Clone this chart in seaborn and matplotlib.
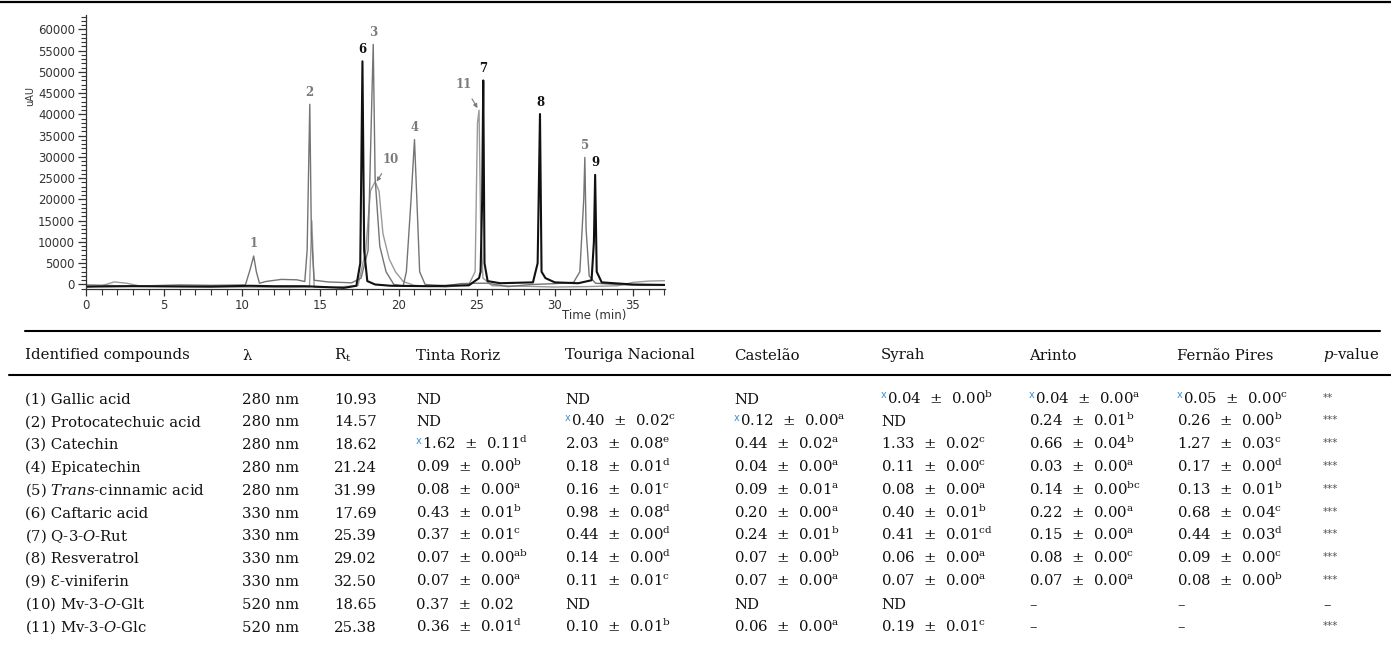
import numpy as np
import pandas as pd
import matplotlib
matplotlib.use("Agg")
import matplotlib.pyplot as plt
from matplotlib.ticker import MultipleLocator
from matplotlib.lines import Line2D
import seaborn as sns

# ---------------- data: chromatogram traces (time [min], signal [uAU]) -------------
t_330 = [0, 3, 8, 10.5, 12, 14, 16.5, 17.3, 17.55, 17.69, 17.8, 18.0, 18.5, 19.5, 22, 24.5,
         25.15, 25.25, 25.35, 25.42, 25.5, 25.7, 26.5, 28.6, 28.9, 29.05, 29.15, 29.4, 30,
         31.5, 32.35, 32.5, 32.58, 32.68, 33, 35, 37.05]
s_330 = [-500, -400, -500, -300, -400, -400, -800, -300, 5000, 52500, 8000, 800, 0, -300, -400,
         -200, 1500, 3000, 20000, 48000, 5000, 800, 300, 500, 5000, 40100, 3000, 1500, 500,
         300, 1000, 10000, 25800, 3000, 500, 0, -100]

t_280 = [0, 1.2, 2, 4, 6, 8, 10.2, 10.5, 10.73, 10.9, 11.1, 11.5, 12.5, 13.5, 14.0, 14.15,
         14.32, 14.42, 14.6, 15.5, 17, 17.6, 18.05, 18.3, 18.38, 18.5, 18.8, 19.2, 19.7, 20.3,
         20.5, 20.8, 21.02, 21.15, 21.35, 21.7, 23, 24, 25, 25.7, 27, 28.5, 30, 31.2, 31.6,
         31.85, 31.92, 32.0, 32.2, 32.6, 34, 35.5, 37.05]
s_280 = [-100, -200, -300, -300, -100, -200, -100, 3500, 6700, 3000, 300, 700, 1200, 1100, 700,
         8000, 42400, 12000, 1000, 600, 400, 1500, 8000, 45000, 56500, 25000, 9000, 3000, 0,
         -300, 3000, 20000, 34100, 22000, 3000, 0, -300, 200, 300, 300, -500, 0, 200, 500, 3000,
         20000, 29900, 13000, 2000, 300, 0, -200, -200]

t_520 = [0, 1, 1.8, 2.6, 3.5, 6, 10, 13, 14.3, 14.45, 14.6, 16, 17.4, 17.9, 18.2, 18.5, 18.75,
         19.0, 19.4, 19.8, 20.3, 21, 23, 24.5, 24.9, 25.05, 25.15, 25.25, 25.4, 26, 28, 30, 32,
         34, 35, 36, 37.05]
s_520 = [-600, -300, 600, 300, -400, -500, -600, -700, -600, 15000, -600, -600, -300, 8000,
         22000, 24200, 22000, 12000, 6000, 3000, 700, -200, -600, 0, 3000, 38000, 41000, 15000,
         1500, -300, -400, -600, -500, -300, 500, 800, 900]

# peak labels: id, apex time, apex height
peak_ids = ["1", "2", "6", "3", "4", "7", "8", "5", "9"]
peak_t = [10.73, 14.32, 17.69, 18.38, 21.02, 25.42, 29.05, 31.92, 32.58]
peak_h = [6700, 42400, 52500, 56500, 34100, 48000, 40100, 29900, 25800]
peak_bold = [False, False, True, False, False, True, True, False, True]
arrow_ids = ["10", "11"]
arrow_t = [18.6, 25.1]
arrow_h = [24200, 41000]

# ---------------- data: table ----------------
headers = ["Identified compounds", "λ", "R$_\\mathrm{t}$", "Tinta Roriz", "Touriga Nacional",
           "Castelão", "Syrah", "Arinto", "Fernão Pires", "$\\it{p}$-value"]
compounds = ["(1) Gallic acid", "(2) Protocatechuic acid", "(3) Catechin", "(4) Epicatechin",
             "(5) $\\it{Trans}$-cinnamic acid", "(6) Caftaric acid", "(7) Q-3-$\\it{O}$-Rut",
             "(8) Resveratrol", "(9) Ɛ-viniferin", "(10) Mv-3-$\\it{O}$-Glt",
             "(11) Mv-3-$\\it{O}$-Glc"]
wavelength = ["280 nm", "280 nm", "280 nm", "280 nm", "280 nm", "330 nm", "330 nm", "330 nm",
              "330 nm", "520 nm", "520 nm"]
rt = ["10.93", "14.57", "18.62", "21.24", "31.99", "17.69", "25.39", "29.02", "32.50",
      "18.65", "25.38"]
tinta_roriz = ["ND", "ND", "x1.62 ± 0.11^d", "0.09 ± 0.00^b", "0.08 ± 0.00^a", "0.43 ± 0.01^b",
               "0.37 ± 0.01^c", "0.07 ± 0.00^ab", "0.07 ± 0.00^a", "0.37 ± 0.02", "0.36 ± 0.01^d"]
touriga_nacional = ["ND", "x0.40 ± 0.02^c", "2.03 ± 0.08^e", "0.18 ± 0.01^d", "0.16 ± 0.01^c",
                    "0.98 ± 0.08^d", "0.44 ± 0.00^d", "0.14 ± 0.00^d", "0.11 ± 0.01^c", "ND",
                    "0.10 ± 0.01^b"]
castelao = ["ND", "x0.12 ± 0.00^a", "0.44 ± 0.02^a", "0.04 ± 0.00^a", "0.09 ± 0.01^a",
            "0.20 ± 0.00^a", "0.24 ± 0.01^b", "0.07 ± 0.00^b", "0.07 ± 0.00^a", "ND",
            "0.06 ± 0.00^a"]
syrah = ["x0.04 ± 0.00^b", "ND", "1.33 ± 0.02^c", "0.11 ± 0.00^c", "0.08 ± 0.00^a",
         "0.40 ± 0.01^b", "0.41 ± 0.01^cd", "0.06 ± 0.00^a", "0.07 ± 0.00^a", "ND",
         "0.19 ± 0.01^c"]
arinto = ["x0.04 ± 0.00^a", "0.24 ± 0.01^b", "0.66 ± 0.04^b", "0.03 ± 0.00^a", "0.14 ± 0.00^bc",
          "0.22 ± 0.00^a", "0.15 ± 0.00^a", "0.08 ± 0.00^c", "0.07 ± 0.00^a", "–", "–"]
fernao_pires = ["x0.05 ± 0.00^c", "0.26 ± 0.00^b", "1.27 ± 0.03^c", "0.17 ± 0.00^d",
                "0.13 ± 0.01^b", "0.68 ± 0.04^c", "0.44 ± 0.03^d", "0.09 ± 0.00^c",
                "0.08 ± 0.00^b", "–", "–"]
p_value = ["**", "***", "***", "***", "***", "***", "***", "***", "***", "–", "***"]

# ---------------- styling ----------------
sns.set_style("ticks")
plt.rcParams["font.family"] = ["DejaVu Sans"]
plt.rcParams["mathtext.fontset"] = "custom"
plt.rcParams["mathtext.rm"] = "DejaVu Serif"
plt.rcParams["mathtext.it"] = "DejaVu Serif:italic"
plt.rcParams["mathtext.bf"] = "DejaVu Serif:bold"

W, H = 1391, 645
fig = plt.figure(figsize=(W / 100, H / 100), dpi=100)
fig.patch.set_facecolor("white")


def fx(x):
    return x / W


def fy(y):
    return 1 - y / H


# top rule of the page
fig.add_artist(Line2D([0, 1], [fy(2), fy(2)], color="black", lw=1.6))

ax = fig.add_axes([fx(86), fy(289), fx(665) - fx(86), fy(15) - fy(289)])
ax.set_facecolor("white")

df520 = pd.DataFrame({"time": t_520, "signal": s_520})
df280 = pd.DataFrame({"time": t_280, "signal": s_280})
df330 = pd.DataFrame({"time": t_330, "signal": s_330})
sns.lineplot(data=df520, x="time", y="signal", color="#9a9a9a", lw=1.0, estimator=None,
             sort=False, ax=ax)
sns.lineplot(data=df280, x="time", y="signal", color="#747474", lw=1.0, estimator=None,
             sort=False, ax=ax)
sns.lineplot(data=df330, x="time", y="signal", color="#111111", lw=1.5, estimator=None,
             sort=False, ax=ax)

ax.set_xlim(0, 37.05)
ax.set_ylim(-1060, 63400)
ax.set_xticks(np.arange(0, 36, 5))
ax.set_yticks(np.arange(0, 60001, 5000))
ax.xaxis.set_minor_locator(MultipleLocator(1))
ax.yaxis.set_minor_locator(MultipleLocator(1000))
ax.tick_params(axis="both", which="major", labelsize=8.5, labelcolor="#333333", color="#333333",
               width=0.9, direction="out")
ax.tick_params(axis="y", which="major", length=6, pad=2)
ax.tick_params(axis="y", which="minor", length=3.5, width=0.8, color="#333333")
ax.tick_params(axis="x", which="major", length=5, pad=2)
ax.tick_params(axis="x", which="minor", length=4, width=0.8, color="#333333")
for s in ["top", "right"]:
    ax.spines[s].set_visible(False)
for s in ["left", "bottom"]:
    ax.spines[s].set_color("#333333")
    ax.spines[s].set_linewidth(0.9)
ax.set_xlabel("")
ax.set_ylabel("")
fig.text(fx(30), fy(96), "uAU", rotation=90, fontsize=7, color="#333333", ha="center",
         va="center")
fig.text(fx(594), fy(316), "Time (min)", fontsize=8.5, color="#333333", ha="center",
         va="center")

# peak labels
for pid, pt, ph, pb in zip(peak_ids, peak_t, peak_h, peak_bold):
    ax.text(pt, ph + 1300, pid, ha="center", va="bottom", fontsize=8.5, fontweight="bold",
            family="DejaVu Serif", color="#111111" if pb else "#7a7a7a")
ax.annotate(arrow_ids[0], xy=(arrow_t[0], arrow_h[0]), xytext=(arrow_t[0] + 0.9, arrow_h[0] + 5300),
            ha="center", va="center", fontsize=8.5, fontweight="bold", family="DejaVu Serif",
            color="#7a7a7a", arrowprops=dict(arrowstyle="-|>", color="#7a7a7a", lw=0.8,
                                             mutation_scale=6, shrinkA=4, shrinkB=0))
ax.annotate(arrow_ids[1], xy=(arrow_t[1] - 0.05, arrow_h[1] + 500),
            xytext=(arrow_t[1] - 0.95, arrow_h[1] + 6100),
            ha="center", va="center", fontsize=8.5, fontweight="bold", family="DejaVu Serif",
            color="#7a7a7a", arrowprops=dict(arrowstyle="-|>", color="#7a7a7a", lw=0.8,
                                             mutation_scale=6, shrinkA=4, shrinkB=0))

# ---------------- table ----------------
fig.add_artist(Line2D([fx(25), fx(1380)], [fy(331), fy(331)], color="black", lw=1.5))
fig.add_artist(Line2D([fx(9), fx(1391)], [fy(375), fy(375)], color="black", lw=1.5))

col_x = [25, 242, 334, 416, 565, 734, 881, 1029, 1177, 1323]
FS = 10.7
SERIF = "DejaVu Serif"
header_base = 359.5
for h, cx in zip(headers, col_x):
    fig.text(fx(cx), fy(header_base), h, fontsize=FS, family=SERIF, ha="left", va="baseline",
             color="#111111")

row0 = 403.5
row_step = 22.8
value_cols = [tinta_roriz, touriga_nacional, castelao, syrah, arinto, fernao_pires]


def draw_value(x, yb, s):
    if s.startswith("x"):
        fig.text(fx(x), fy(yb - 5), "x", fontsize=7, family="DejaVu Sans", color="#3d8fd1",
                 ha="left", va="baseline")
        s = s[1:]
        x = x + 6
    if "^" in s:
        main, sup = s.split("^")
        s = main.replace(" ± ", "  ±  ") + "$^{\\mathrm{" + sup + "}}$"
    else:
        s = s.replace(" ± ", "  ±  ")
    fig.text(fx(x), fy(yb), s, fontsize=FS, family=SERIF, ha="left", va="baseline",
             color="#111111")


for i in range(len(compounds)):
    yb = row0 + i * row_step
    fig.text(fx(col_x[0]), fy(yb), compounds[i], fontsize=FS, family=SERIF, ha="left",
             va="baseline", color="#111111")
    fig.text(fx(col_x[1]), fy(yb), wavelength[i], fontsize=FS, family=SERIF, ha="left",
             va="baseline", color="#111111")
    fig.text(fx(col_x[2]), fy(yb), rt[i], fontsize=FS, family=SERIF, ha="left",
             va="baseline", color="#111111")
    for cx, col in zip(col_x[3:9], value_cols):
        draw_value(cx, yb, col[i])
    pv = p_value[i]
    if pv.startswith("*"):
        fig.text(fx(col_x[9]), fy(yb - 3), pv, fontsize=7.5, family="DejaVu Sans",
                 color="#555555", ha="left", va="baseline")
    else:
        fig.text(fx(col_x[9]), fy(yb), pv, fontsize=FS, family=SERIF, color="#111111",
                 ha="left", va="baseline")

fig.savefig("out.png", dpi=100, facecolor="white")
